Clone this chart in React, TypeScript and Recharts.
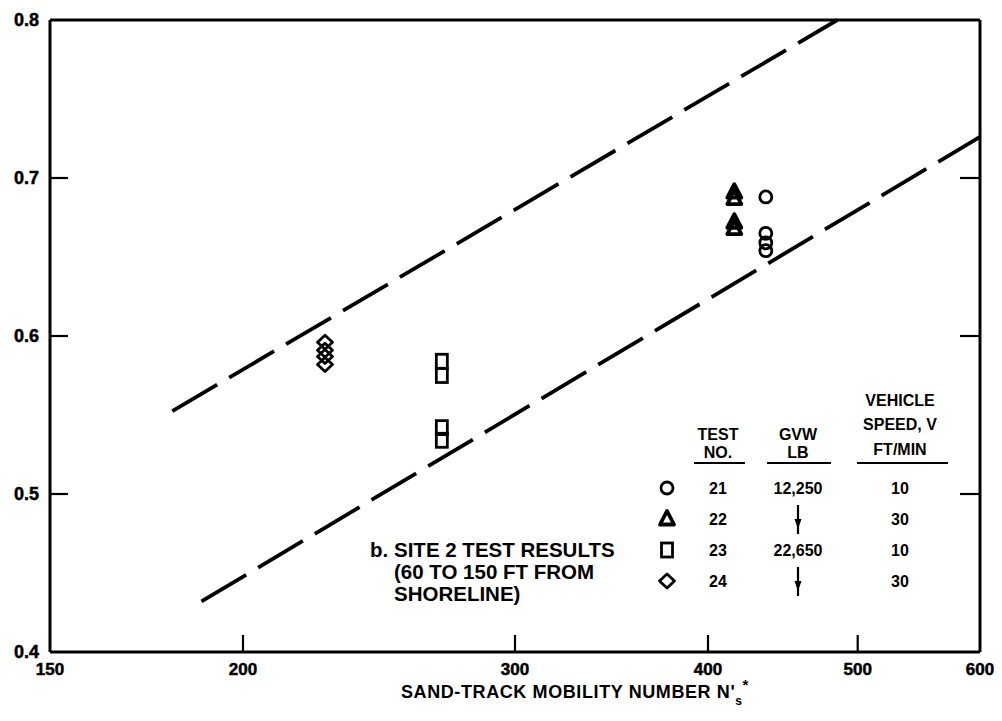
import React from "react";
import { ScatterChart, Scatter, XAxis, YAxis, ReferenceLine } from "recharts";

const FONT = '"Liberation Sans", Arial, sans-serif';

// axis ticks
const xTicks = [150, 200, 300, 400, 500, 600];
const yTicks = [0.4, 0.5, 0.6, 0.7, 0.8];

// test 21 (circles), 22 (triangles), 23 (squares), 24 (diamonds)
const test21X = [436, 436, 436, 436];
const test21Y = [0.688, 0.665, 0.659, 0.654];
const test22X = [416, 416, 416, 416];
const test22Y = [0.691, 0.687, 0.672, 0.668];
const test23X = [269, 269, 269, 269];
const test23Y = [0.584, 0.575, 0.542, 0.534];
const test24X = [226, 226, 226, 226];
const test24Y = [0.596, 0.591, 0.587, 0.582];

// dashed envelope lines
const upperLineX = [180, 485];
const upperLineY = [0.5525, 0.8];
const lowerLineX = [188, 600];
const lowerLineY = [0.432, 0.726];

// legend table
const testNumbers = ["21", "22", "23", "24"];
const gvwLabels = ["12,250", "", "22,650", ""];
const speedLabels = ["10", "30", "10", "30"];
const legendMarks = ["circle", "triangle", "square", "diamond"];

const toPoints = (xs: number[], ys: number[]) => xs.map((x, i) => ({ x, y: ys[i] }));

const W = 994;
const H = 705;

function Mark({ kind, cx, cy }: { kind: string; cx: number; cy: number }) {
  const s = { fill: "none", stroke: "#000", strokeWidth: 2.8 };
  if (kind === "circle") return <circle cx={cx} cy={cy} r={6} {...s} />;
  if (kind === "triangle")
    return (
      <polygon
        points={`${cx},${cy - 8} ${cx - 7},${cy + 5.5} ${cx + 7},${cy + 5.5}`}
        {...s}
        strokeWidth={3.8}
        strokeLinejoin="round"
      />
    );
  if (kind === "square") return <rect x={cx - 5.5} y={cy - 7} width={11} height={14} {...s} />;
  return (
    <polygon
      points={`${cx},${cy - 7} ${cx + 7.5},${cy} ${cx},${cy + 7} ${cx - 7.5},${cy}`}
      {...s}
      strokeLinejoin="round"
    />
  );
}

const shapeOf = (kind: string) => (p: any) => <Mark kind={kind} cx={p.cx} cy={p.cy} />;

const bold = (size: number) => ({ fontFamily: FONT, fontWeight: 700, fontSize: size });

function renderBottomTick(props: any) {
  const { x, y, payload } = props;
  const v = payload.value;
  return (
    <g key={`b${v}`}>
      {v > 150 && v < 600 && <line x1={x} x2={x} y1={y} y2={y - 17} stroke="#000" strokeWidth={2.2} />}
      <text
        x={x}
        y={y + 23}
        textAnchor="middle"
        fill="#000"
        stroke="#000"
        strokeWidth={0.5}
        fontWeight="bold"
        fontSize={17}
        fontFamily={FONT}
        style={bold(17)}
      >
        {v}
      </text>
    </g>
  );
}

function renderTopTick(props: any) {
  const { x, y, payload } = props;
  const v = payload.value;
  if (v <= 150 || v >= 600) return <g key={`t${v}`} />;
  return <line key={`t${v}`} x1={x} x2={x} y1={y} y2={y + 15} stroke="#000" strokeWidth={2.2} />;
}

function renderLeftTick(props: any) {
  const { x, y, payload } = props;
  const v = payload.value;
  return (
    <g key={`l${v}`}>
      {v > 0.4 && v < 0.8 && <line x1={x} x2={x + 18} y1={y} y2={y} stroke="#000" strokeWidth={2.2} />}
      <text
        x={x - 11}
        y={y + 6}
        textAnchor="end"
        fill="#000"
        stroke="#000"
        strokeWidth={0.5}
        fontWeight="bold"
        fontSize={18}
        fontFamily={FONT}
        style={bold(18)}
      >
        {v.toFixed(1)}
      </text>
    </g>
  );
}

function renderRightTick(props: any) {
  const { x, y, payload } = props;
  const v = payload.value;
  if (v <= 0.4 || v >= 0.8) return <g key={`r${v}`} />;
  return <line key={`r${v}`} x1={x} x2={x - 20} y1={y} y2={y} stroke="#000" strokeWidth={2.2} />;
}

function Overlay() {
  const t = { fill: "#000", style: bold(16) };
  const rowY = [480, 511, 542, 573];
  const colMark = 659;
  const colTest = 710;
  const colGvw = 790;
  const colSpeed = 892;
  return (
    <svg width={W} height={H} style={{ position: "absolute", left: 0, top: 0, pointerEvents: "none" }}>
      {/* table header */}
      <text x={colSpeed} y={398} textAnchor="middle" {...t}>VEHICLE</text>
      <text x={colTest} y={432} textAnchor="middle" {...t}>TEST</text>
      <text x={colGvw} y={432} textAnchor="middle" {...t}>GVW</text>
      <text x={colSpeed} y={422} textAnchor="middle" {...t}>SPEED, V</text>
      <text x={colTest} y={450} textAnchor="middle" {...t}>NO.</text>
      <text x={colGvw} y={450} textAnchor="middle" {...t}>LB</text>
      <text x={colSpeed} y={447} textAnchor="middle" {...t}>FT/MIN</text>
      <line x1={686} x2={737} y1={455} y2={455} stroke="#000" strokeWidth={1.8} />
      <line x1={759} x2={823} y1={455} y2={455} stroke="#000" strokeWidth={1.8} />
      <line x1={849} x2={940} y1={455} y2={455} stroke="#000" strokeWidth={1.8} />
      {testNumbers.map((n, i) => (
        <g key={n}>
          <Mark kind={legendMarks[i]} cx={colMark} cy={rowY[i]} />
          <text x={colTest} y={rowY[i] + 6} textAnchor="middle" {...t}>{n}</text>
          {gvwLabels[i] ? (
            <text x={colGvw} y={rowY[i] + 6} textAnchor="middle" {...t}>{gvwLabels[i]}</text>
          ) : (
            <g>
              <line x1={colGvw} x2={colGvw} y1={rowY[i] - 14} y2={rowY[i] + 15} stroke="#000" strokeWidth={2.2} />
              <polygon
                points={`${colGvw - 3.5},${rowY[i]} ${colGvw + 3.5},${rowY[i]} ${colGvw},${rowY[i] + 10}`}
                fill="#000"
              />
            </g>
          )}
          <text x={colSpeed} y={rowY[i] + 6} textAnchor="middle" {...t}>{speedLabels[i]}</text>
        </g>
      ))}
      {/* note */}
      <g fill="#000" style={bold(20.5)}>
        <text x={362} y={549}>b.</text>
        <text x={386} y={549}>SITE 2 TEST RESULTS</text>
        <text x={386} y={571}>(60 TO 150 FT FROM</text>
        <text x={386} y={593}>SHORELINE)</text>
      </g>
      {/* axis title */}
      <text x={567} y={690} textAnchor="middle" fill="#000" style={{ ...bold(18), letterSpacing: 0.6 }}>
        SAND-TRACK MOBILITY NUMBER N
        <tspan>'</tspan>
        <tspan style={{ fontSize: 12 }} dy={7}>s</tspan>
        <tspan style={{ fontSize: 15 }} dy={-15}>*</tspan>
      </text>
    </svg>
  );
}

export default function App() {
  return (
    <div style={{ position: "relative", width: W, height: H, background: "#fff" }}>
      <ScatterChart width={W} height={H} margin={{ top: 0, right: 0, bottom: 0, left: 0 }}>
        <XAxis
          dataKey="x"
          type="number"
          scale="log"
          domain={[150, 600]}
          allowDataOverflow
          ticks={xTicks}
          interval={0}
          height={61}
          tickSize={0}
          tickMargin={0}
          tickLine={false}
          axisLine={{ stroke: "#000", strokeWidth: 3 }}
          tick={renderBottomTick}
        />
        <XAxis
          xAxisId="top"
          orientation="top"
          type="number"
          scale="log"
          domain={[150, 600]}
          allowDataOverflow
          ticks={xTicks}
          interval={0}
          height={12}
          tickSize={0}
          tickMargin={0}
          tickLine={false}
          axisLine={{ stroke: "#000", strokeWidth: 3 }}
          tick={renderTopTick}
        />
        <YAxis
          dataKey="y"
          type="number"
          domain={[0.4, 0.8]}
          allowDataOverflow
          ticks={yTicks}
          interval={0}
          width={42}
          tickSize={0}
          tickMargin={0}
          tickLine={false}
          axisLine={{ stroke: "#000", strokeWidth: 3 }}
          tick={renderLeftTick}
        />
        <YAxis
          yAxisId="right"
          orientation="right"
          type="number"
          domain={[0.4, 0.8]}
          allowDataOverflow
          ticks={yTicks}
          interval={0}
          width={22}
          tickSize={0}
          tickMargin={0}
          tickLine={false}
          axisLine={{ stroke: "#000", strokeWidth: 3 }}
          tick={renderRightTick}
        />
        <ReferenceLine
          segment={[
            { x: upperLineX[0], y: upperLineY[0] },
            { x: upperLineX[1], y: upperLineY[1] },
          ]}
          stroke="#000"
          strokeWidth={3.8}
          strokeDasharray="52 14"
        />
        <ReferenceLine
          segment={[
            { x: lowerLineX[0], y: lowerLineY[0] },
            { x: lowerLineX[1], y: lowerLineY[1] },
          ]}
          stroke="#000"
          strokeWidth={3.8}
          strokeDasharray="52 14"
        />
        <Scatter data={toPoints(test21X, test21Y)} shape={shapeOf("circle")} isAnimationActive={false} />
        <Scatter data={toPoints(test22X, test22Y)} shape={shapeOf("triangle")} isAnimationActive={false} />
        <Scatter data={toPoints(test23X, test23Y)} shape={shapeOf("square")} isAnimationActive={false} />
        <Scatter data={toPoints(test24X, test24Y)} shape={shapeOf("diamond")} isAnimationActive={false} />
      </ScatterChart>
      <Overlay />
    </div>
  );
}
